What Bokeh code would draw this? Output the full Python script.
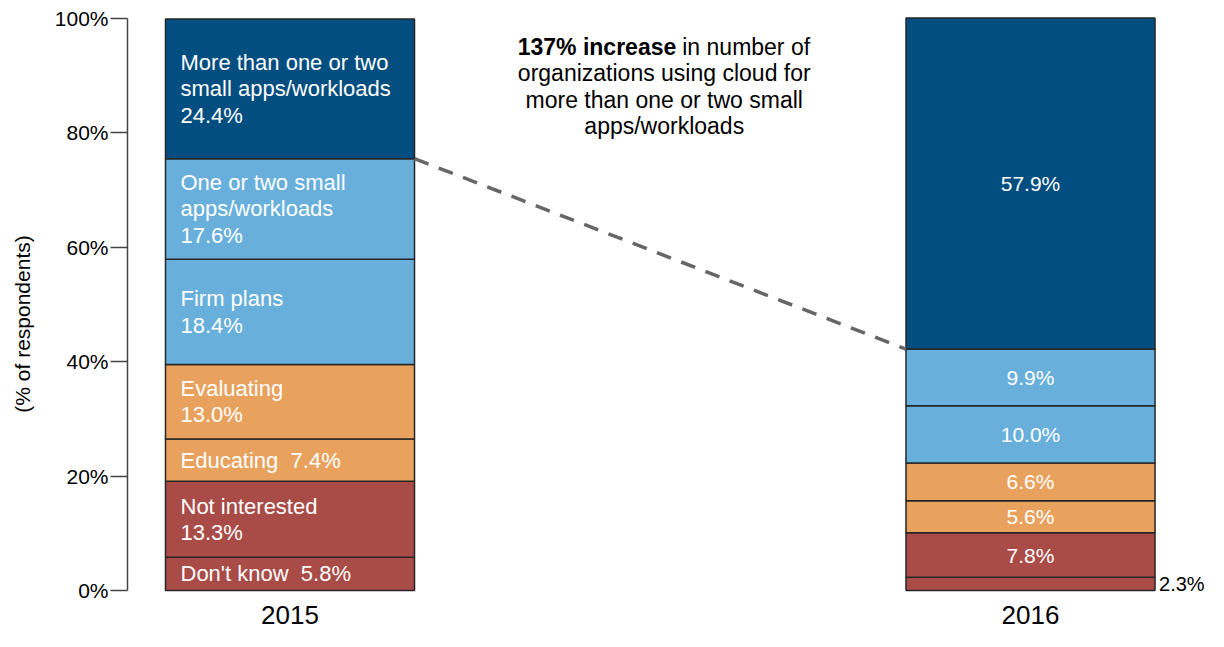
from bokeh.plotting import figure
from bokeh.models import ColumnDataSource, Range1d, FixedTicker, PrintfTickFormatter, Label
from bokeh.core.properties import value
from bokeh.embed import file_html
from bokeh.resources import INLINE

# ---------------- data ----------------
years = ["2015", "2016"]
categories = ["Don't know", "Not interested", "Educating", "Evaluating", "Firm plans",
              "One or two small apps/workloads", "More than one or two small apps/workloads"]
label_names = ["Don't know", "Not interested", "Educating", "Evaluating", "Firm plans",
               "One or two small\napps/workloads", "More than one or two\nsmall apps/workloads"]
label_inline = [True, False, True, False, False, False, False]
values_2015 = [5.8, 13.3, 7.4, 13.0, 18.4, 17.6, 24.4]
values_2016 = [2.3, 7.8, 5.6, 6.6, 10.0, 9.9, 57.9]
colors = ["#A94B47", "#A94B47", "#E9A25E", "#E9A25E", "#68AFDC", "#68AFDC", "#024E80"]
y_ticks = [0, 20, 40, 60, 80, 100]
annotation_bold = "137% increase"
annotation_rest = ["in number of", "organizations using cloud for",
                   "more than one or two small", "apps/workloads"]
y_axis_title = "(% of respondents)"

# ---------------- style ----------------
FONT = "Liberation Sans"
BAR_W = 0.3363
PX_PER_UNIT_Y = 5.72
YEAR_Y = -4.2

p = figure(width=1208, height=631, output_backend="svg", toolbar_location=None,
           x_range=Range1d(-0.21945, 1.24037), y_range=Range1d(-7.168, 100.35),
           min_border_left=127, min_border_right=0, min_border_top=16, min_border_bottom=0,
           x_axis_location=None)
p.xgrid.visible = False
p.ygrid.visible = False
p.outline_line_color = None
p.background_fill_color = "white"
p.border_fill_color = "white"

ax = p.yaxis[0]
ax.ticker = FixedTicker(ticks=y_ticks)
ax.formatter = PrintfTickFormatter(format="%d%%")
ax.bounds = (0, 100)
ax.major_tick_out = 17
ax.major_tick_in = 0
ax.minor_tick_out = 0
ax.minor_tick_in = 0
ax.major_label_standoff = 2
ax.axis_line_color = "#444444"
ax.axis_line_width = 1.5
ax.major_tick_line_color = "#444444"
ax.major_tick_line_width = 1.5
ax.major_label_text_font = FONT
ax.major_label_text_font_size = "21px"
ax.major_label_text_color = "black"
ax.axis_label = y_axis_title
ax.axis_label_text_font = FONT
ax.axis_label_text_font_size = "21px"
ax.axis_label_text_font_style = "normal"
ax.axis_label_text_color = "black"
ax.axis_label_standoff = 18

# ---------------- bars ----------------
series = [values_2015, values_2016]
xs, bottoms, tops, cols = [], [], [], []
cums = []
for i, vals in enumerate(series):
    c = 0.0
    cum = []
    for v, col in zip(vals, colors):
        xs.append(i)
        bottoms.append(c)
        c += v
        tops.append(c)
        cols.append(col)
        cum.append(c)
    cums.append(cum)

src = ColumnDataSource(dict(x=xs, bottom=bottoms, top=tops, color=cols))
p.vbar(x="x", width=BAR_W, bottom="bottom", top="top", source=src,
       fill_color="color", line_color="#262626", line_width=1.5)

# 2015 labels (left aligned inside bar)
l15_y, l15_t = [], []
c = 0.0
for name, inl, v in zip(label_names, label_inline, values_2015):
    l15_y.append(c + v / 2)
    c += v
    l15_t.append(f"{name} \u00a0{v:.1f}%" if inl else f"{name}\n{v:.1f}%")
p.text(x=[0 - BAR_W / 2] * len(l15_y), y=l15_y, text=l15_t, x_offset=15,
       text_align="left", text_baseline="middle", text_color="white",
       text_font=value(FONT), text_font_size="22px", text_line_height=1.06)

# 2016 labels: centered inside, small segments labelled outside
in_y, in_t, out_y, out_t = [], [], [], []
c = 0.0
for v in values_2016:
    mid = c + v / 2
    c += v
    if v < 4:
        out_y.append(mid)
        out_t.append(f"{v:.1f}%")
    else:
        in_y.append(mid)
        in_t.append(f"{v:.1f}%")
p.text(x=[1] * len(in_y), y=in_y, text=in_t, text_align="center", text_baseline="middle",
       text_color="white", text_font=value(FONT), text_font_size="21px")
p.text(x=[1 + BAR_W / 2] * len(out_y), y=out_y, text=out_t, x_offset=4,
       text_align="left", text_baseline="middle", text_color="black",
       text_font=value(FONT), text_font_size="20px")

# connector line between the tops of the "One or two" segments
p.line(x=[0 + BAR_W / 2, 1 - BAR_W / 2], y=[cums[0][5], cums[1][5]],
       line_dash="15 11", line_width=3.5, line_color="#666666")

# year labels
p.text(x=list(range(len(years))), y=[YEAR_Y] * len(years), text=years,
       text_align="center", text_baseline="middle", text_color="black",
       text_font=value(FONT), text_font_size="26px")

# annotation
ANN_X = 0.5
ANN_DX = 4
ANN_Y = 95.1
LINE = 26.5 / PX_PER_UNIT_Y
ANN_SIZE = "23px"
p.add_layout(Label(x=ANN_X, y=ANN_Y, text=annotation_bold, x_offset=ANN_DX + 12,
                   text_align="right", text_baseline="middle", text_font=FONT,
                   text_font_size=ANN_SIZE, text_font_style="bold", text_color="black"))
p.add_layout(Label(x=ANN_X, y=ANN_Y, text=annotation_rest[0], x_offset=ANN_DX + 18,
                   text_align="left", text_baseline="middle", text_font=FONT,
                   text_font_size=ANN_SIZE, text_color="black"))
for k, line in enumerate(annotation_rest[1:], start=1):
    p.add_layout(Label(x=ANN_X, y=ANN_Y - k * LINE, text=line, x_offset=ANN_DX,
                       text_align="center", text_baseline="middle", text_font=FONT,
                       text_font_size=ANN_SIZE, text_color="black"))

open("out.html", "w").write(file_html(p, INLINE))
